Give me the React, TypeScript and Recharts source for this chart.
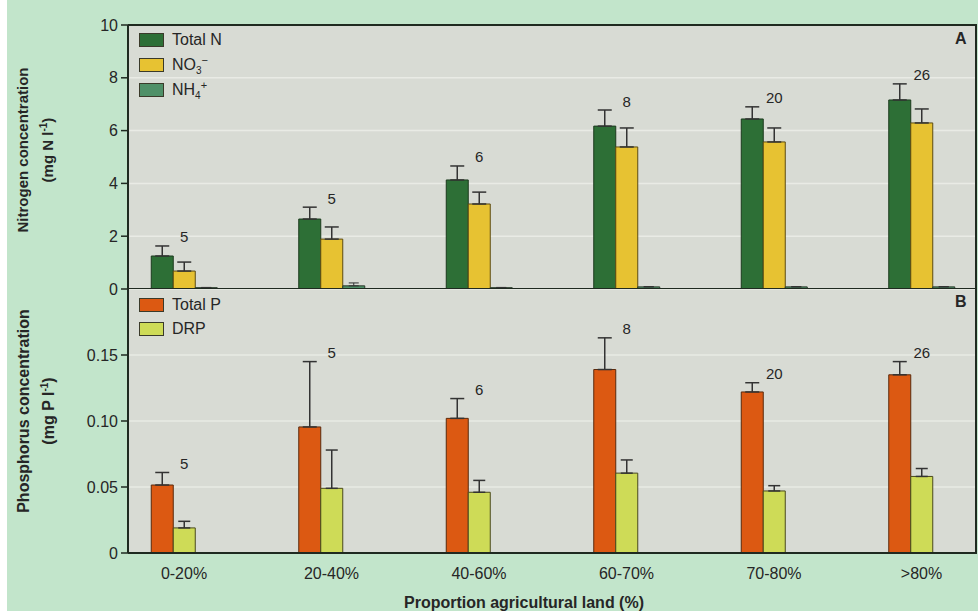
import { BarChart, Bar, XAxis, YAxis, CartesianGrid, ErrorBar, LabelList } from "recharts";

// land-use classes and number of sites in each
const categories = ["0-20%", "20-40%", "40-60%", "60-70%", "70-80%", ">80%"];
const sampleSizes = [5, 5, 6, 8, 20, 26];

// panel A, mg N per litre (upper error = SE)
const totalN = [1.25, 2.65, 4.13, 6.17, 6.44, 7.16];
const totalNErr = [0.38, 0.45, 0.53, 0.61, 0.46, 0.61];
const nitrate = [0.68, 1.89, 3.22, 5.38, 5.57, 6.29];
const nitrateErr = [0.34, 0.46, 0.45, 0.72, 0.53, 0.53];
const ammonium = [0.05, 0.12, 0.05, 0.08, 0.08, 0.08];
const ammoniumErr = [0.01, 0.11, 0.01, 0.01, 0.01, 0.01];

// panel B, mg P per litre
const totalP = [0.0515, 0.0955, 0.102, 0.139, 0.122, 0.135];
const totalPErr = [0.0095, 0.0495, 0.015, 0.024, 0.007, 0.01];
const drp = [0.019, 0.049, 0.046, 0.0605, 0.047, 0.058];
const drpErr = [0.005, 0.029, 0.009, 0.01, 0.004, 0.006];

const nTicks = [0, 2, 4, 6, 8, 10];
const pTicks = [0, 0.05, 0.1, 0.15];

const FONT = '"Liberation Sans", Arial, sans-serif';
const INK = "#262626";
const AXIS = "#1f2a20";
const PLOT_BG = "#d8dbd4";
const PAGE_BG = "#c2e5cb";

const COLORS = {
  totalN: "#2d6f36",
  nitrate: "#e7c232",
  ammonium: "#4f9068",
  totalP: "#dc5912",
  drp: "#cedb57",
};

const nitrogenData = categories.map((c, i) => ({
  category: c,
  i,
  totalN: totalN[i],
  totalNErr: [0, totalNErr[i]],
  nitrate: nitrate[i],
  nitrateErr: [0, nitrateErr[i]],
  ammonium: ammonium[i],
  ammoniumErr: [0, ammoniumErr[i]],
}));

const phosphorusData = categories.map((c, i) => ({
  category: c,
  i,
  totalP: totalP[i],
  totalPErr: [0, totalPErr[i]],
  drp: drp[i],
  drpErr: [0, drpErr[i]],
}));

// n label sits just above the error cap of the first bar, centred on the group
const sampleLabel = (values: number[], errs: number[]) => (props: any) => {
  const vb = props.viewBox || props;
  const { x, y, width, height } = vb;
  const idx = typeof props.index === "number" ? props.index : props.value;
  const pxPerUnit = height / values[idx];
  const capY = y - errs[idx] * pxPerUnit;
  return (
    <text
      x={x + width * 1.5}
      y={capY - 9}
      textAnchor="middle"
      dominantBaseline="central"
      fontSize={15}
      fontFamily={FONT}
      fill={INK}
    >
      {sampleSizes[idx]}
    </text>
  );
};

const xPadding = { left: -17.75, right: -19.25 };

function LegendItem({ color, children, top }: { color: string; children: any; top: number }) {
  return (
    <div style={{ position: "absolute", left: 139, top: top - 8, display: "flex", alignItems: "center", height: 16 }}>
      <span
        style={{
          width: 23,
          height: 12,
          background: color,
          border: "1px solid #3a3a2a",
          display: "inline-block",
          marginRight: 8,
        }}
      />
      <span style={{ fontSize: 16, color: INK, lineHeight: "16px" }}>{children}</span>
    </div>
  );
}

function AxisTitle({ lines, cx, cy, size }: { lines: any[]; cx: number; cy: number; size: number }) {
  return (
    <div
      style={{
        position: "absolute",
        left: cx - 160,
        top: cy - 21,
        width: 320,
        height: 42,
        transform: "rotate(-90deg)",
        textAlign: "center",
        fontWeight: "bold",
        fontSize: size,
        lineHeight: "21px",
        color: INK,
      }}
    >
      {lines.map((l, k) => (
        <div key={k}>{l}</div>
      ))}
    </div>
  );
}

export default function App() {
  const yTick = { fontSize: 16, fill: INK, fontFamily: FONT };
  return (
    <div
      style={{
        position: "fixed",
        left: 0,
        top: 0,
        width: 978,
        height: 611,
        background: "#ffffff",
        fontFamily: FONT,
        overflow: "hidden",
      }}
    >
      <div style={{ position: "absolute", left: 7, top: 0, right: 0, bottom: 0, background: PAGE_BG }} />

      {/* Panel A: nitrogen */}
      <div style={{ position: "absolute", left: 0, top: 0 }}>
        <BarChart
          width={978}
          height={300}
          data={nitrogenData}
          margin={{ top: 25, right: 2, bottom: 0, left: 0 }}
          barGap={0}
          barSize={22}
        >
          <CartesianGrid vertical={false} stroke="#e9ebe5" strokeWidth={1.5} fill={PLOT_BG} />
          <XAxis
            dataKey="category"
            height={11}
            tick={false}
            tickLine={false}
            axisLine={{ stroke: AXIS, strokeWidth: 2 }}
            padding={xPadding}
          />
          <YAxis
            width={128}
            domain={[0, 10]}
            ticks={nTicks}
            interval={0}
            tickSize={7}
            tickMargin={3}
            tick={yTick}
            tickLine={{ stroke: AXIS, strokeWidth: 1.5 }}
            axisLine={{ stroke: AXIS, strokeWidth: 2 }}
          />
          <Bar dataKey="totalN" fill={COLORS.totalN} stroke="#1c3a1e" strokeWidth={1} isAnimationActive={false}>
            <ErrorBar dataKey="totalNErr" direction="y" width={7} stroke="#333" strokeWidth={1.5} />
            <LabelList dataKey="i" content={sampleLabel(totalN, totalNErr)} />
          </Bar>
          <Bar dataKey="nitrate" fill={COLORS.nitrate} stroke="#5c4b12" strokeWidth={1} isAnimationActive={false}>
            <ErrorBar dataKey="nitrateErr" direction="y" width={7} stroke="#333" strokeWidth={1.5} />
          </Bar>
          <Bar dataKey="ammonium" fill={COLORS.ammonium} stroke="#2a3a2a" strokeWidth={1} isAnimationActive={false}>
            <ErrorBar dataKey="ammoniumErr" direction="y" width={5} stroke="#333" strokeWidth={1} />
          </Bar>
        </BarChart>
      </div>

      {/* Panel B: phosphorus */}
      <div style={{ position: "absolute", left: 0, top: 289 }}>
        <BarChart
          width={978}
          height={322}
          data={phosphorusData}
          margin={{ top: 0, right: 2, bottom: 0, left: 0 }}
          barGap={0}
          barSize={22}
        >
          <CartesianGrid vertical={false} stroke="#e9ebe5" strokeWidth={1.5} fill={PLOT_BG} />
          <XAxis
            dataKey="category"
            height={58}
            interval={0}
            tickLine={false}
            tickSize={0}
            tickMargin={15}
            tick={{ fontSize: 16, fill: INK, fontFamily: FONT }}
            axisLine={{ stroke: AXIS, strokeWidth: 2 }}
            padding={xPadding}
          />
          <YAxis
            width={128}
            domain={[0, 0.2]}
            ticks={pTicks}
            interval={0}
            tickSize={7}
            tickMargin={3}
            tick={yTick}
            tickFormatter={(v: number) => (v === 0 ? "0" : v.toFixed(2))}
            tickLine={{ stroke: AXIS, strokeWidth: 1.5 }}
            axisLine={{ stroke: AXIS, strokeWidth: 2 }}
          />
          <Bar dataKey="totalP" fill={COLORS.totalP} stroke="#5a2a0c" strokeWidth={1} isAnimationActive={false}>
            <ErrorBar dataKey="totalPErr" direction="y" width={7} stroke="#333" strokeWidth={1.5} />
            <LabelList dataKey="i" content={sampleLabel(totalP, totalPErr)} />
          </Bar>
          <Bar dataKey="drp" fill={COLORS.drp} stroke="#4a4a1c" strokeWidth={1} isAnimationActive={false}>
            <ErrorBar dataKey="drpErr" direction="y" width={6} stroke="#333" strokeWidth={1.5} />
          </Bar>
          {/* empty third slot so the pairs line up with the nitrogen triplets */}
          <Bar dataKey="slot" fill="none" isAnimationActive={false} />
        </BarChart>
      </div>

      {/* plot frame: top and right edges */}
      <div
        style={{
          position: "absolute",
          left: 128,
          top: 24,
          width: 849,
          height: 530,
          boxSizing: "border-box",
          borderTop: `2px solid ${AXIS}`,
          borderRight: `2px solid ${AXIS}`,
          pointerEvents: "none",
        }}
      />

      {/* legends */}
      <LegendItem color={COLORS.totalN} top={40}>Total N</LegendItem>
      <LegendItem color={COLORS.nitrate} top={65}>
        NO<span style={{ fontSize: 10, verticalAlign: -4 }}>3</span>
        <span style={{ fontSize: 11, verticalAlign: 6 }}>−</span>
      </LegendItem>
      <LegendItem color={COLORS.ammonium} top={90}>
        NH<span style={{ fontSize: 10, verticalAlign: -4 }}>4</span>
        <span style={{ fontSize: 11, verticalAlign: 6 }}>+</span>
      </LegendItem>
      <LegendItem color={COLORS.totalP} top={305}>Total P</LegendItem>
      <LegendItem color={COLORS.drp} top={329}>DRP</LegendItem>

      {/* panel letters */}
      <div style={{ position: "absolute", left: 955, top: 30, fontSize: 16, fontWeight: "bold", color: INK }}>A</div>
      <div style={{ position: "absolute", left: 955, top: 293, fontSize: 16, fontWeight: "bold", color: INK }}>B</div>

      {/* axis titles */}
      <AxisTitle
        cx={33}
        cy={150}
        size={15}
        lines={[
          "Nitrogen concentration",
          <span key="u">
            (mg N l<sup style={{ fontSize: 10 }}>-1</sup>)
          </span>,
        ]}
      />
      <AxisTitle
        cx={34}
        cy={411}
        size={16}
        lines={[
          "Phosphorus concentration",
          <span key="u">
            (mg P l<sup style={{ fontSize: 10 }}>-1</sup>)
          </span>,
        ]}
      />
      <div
        style={{
          position: "absolute",
          left: 324,
          top: 594,
          width: 400,
          textAlign: "center",
          fontSize: 16,
          fontWeight: "bold",
          color: INK,
        }}
      >
        Proportion agricultural land (%)
      </div>
    </div>
  );
}
